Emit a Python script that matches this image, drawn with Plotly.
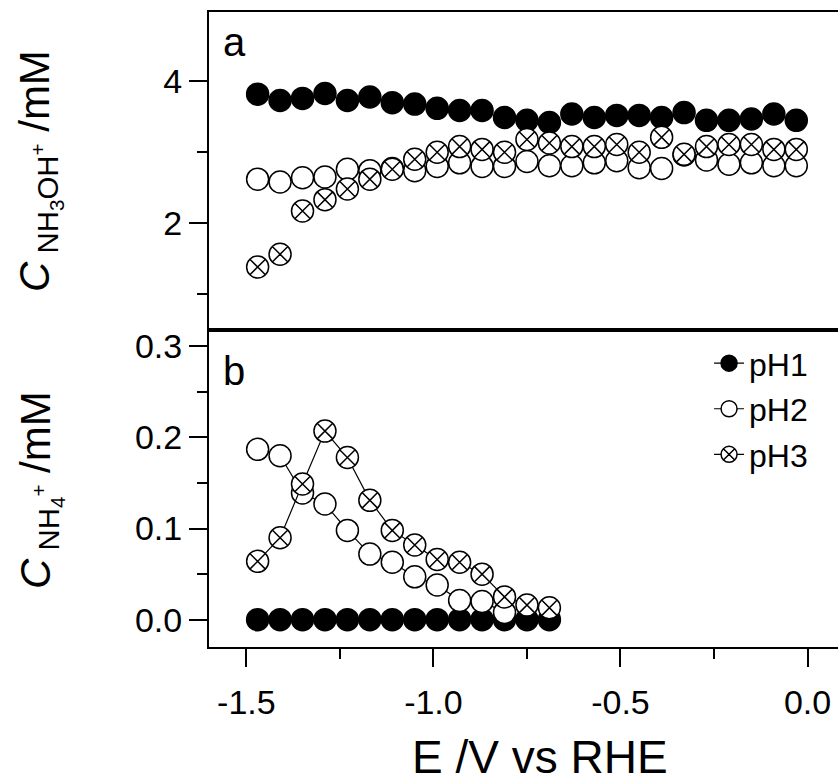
import plotly.graph_objects as go

# ---- data ----
E_top = [-1.47, -1.41, -1.35, -1.29, -1.23, -1.17, -1.11, -1.05, -0.99, -0.93,
         -0.87, -0.81, -0.75, -0.69, -0.63, -0.57, -0.51, -0.45, -0.39, -0.33,
         -0.27, -0.21, -0.15, -0.09, -0.03]
nh3oh_pH1 = [3.82, 3.73, 3.76, 3.83, 3.73, 3.78, 3.70, 3.68, 3.62, 3.59,
             3.59, 3.49, 3.45, 3.42, 3.54, 3.49, 3.52, 3.52, 3.49, 3.56,
             3.45, 3.45, 3.47, 3.54, 3.45]
nh3oh_pH2 = [2.62, 2.58, 2.64, 2.65, 2.76, 2.74, 2.77, 2.74, 2.80, 2.85,
             2.80, 2.80, 2.87, 2.81, 2.81, 2.85, 2.88, 2.78, 2.77, 2.96,
             2.89, 2.83, 2.85, 2.81, 2.81]
nh3oh_pH3 = [1.38, 1.56, 2.17, 2.33, 2.48, 2.62, 2.76, 2.90, 3.00, 3.08,
             3.04, 3.00, 3.18, 3.13, 3.08, 3.08, 3.11, 3.00, 3.21, 2.97,
             3.08, 3.11, 3.11, 3.04, 3.04]

E_bot = [-1.47, -1.41, -1.35, -1.29, -1.23, -1.17, -1.11, -1.05, -0.99, -0.93,
         -0.87, -0.81, -0.75, -0.69]
nh4_pH1 = [0.0, 0.0, 0.0, 0.0, 0.0, 0.0, 0.0, 0.0, 0.0, 0.0, 0.0, 0.0, 0.0, 0.0]
E_bot_pH2 = [-1.47, -1.41, -1.35, -1.29, -1.23, -1.17, -1.11, -1.05, -0.99, -0.93,
             -0.87, -0.81]
nh4_pH2 = [0.187, 0.180, 0.139, 0.127, 0.098, 0.072, 0.063, 0.047, 0.038, 0.021,
           0.020, 0.008]
nh4_pH3 = [0.064, 0.090, 0.149, 0.207, 0.178, 0.131, 0.098, 0.082, 0.066, 0.063,
           0.050, 0.025, 0.016, 0.013]

series_names = ["pH1", "pH2", "pH3"]
x_ticks = [-1.5, -1.0, -0.5, 0.0]

FONT = "Liberation Sans, Arial, sans-serif"
MS = 22

styles = [
    dict(symbol="circle", color="black", line=dict(color="black", width=1.5), size=MS),
    dict(symbol="circle", color="white", line=dict(color="black", width=1.5), size=MS),
    dict(symbol="circle-x", color="white", line=dict(color="black", width=1.5), size=MS),
]

fig = go.Figure()

top_y = [nh3oh_pH1, nh3oh_pH2, nh3oh_pH3]
for name, ys, st in zip(series_names, top_y, styles):
    fig.add_trace(go.Scatter(x=E_top, y=ys, mode="markers", marker=st,
                             xaxis="x2", yaxis="y2", showlegend=False, name=name))

bot_x = [E_bot, E_bot_pH2, E_bot]
bot_y = [nh4_pH1, nh4_pH2, nh4_pH3]
for name, xs, ys, st in zip(series_names, bot_x, bot_y, styles):
    fig.add_trace(go.Scatter(x=xs, y=ys, mode="lines+markers", marker=st,
                             line=dict(color="black", width=1.2),
                             xaxis="x", yaxis="y", name=name, legendgroup=name))

L, R, T, B = 209, 0, 12, 135
W, H = 838, 782
split = (647 - 330) / (647 - 12)

axis_common = dict(showline=True, linecolor="black", linewidth=2, showgrid=False,
                   zeroline=False, ticks="outside", ticklen=18, tickwidth=2,
                   tickcolor="black",
                   tickfont=dict(family=FONT, size=34, color="black"))

fig.update_layout(
    width=W, height=H,
    margin=dict(l=L, r=R, t=T, b=B),
    paper_bgcolor="white", plot_bgcolor="white",
    font=dict(family=FONT, color="black"),
    xaxis=dict(**axis_common, range=[-1.6, 0.0815], mirror=True, anchor="y",
               tickvals=x_ticks, ticktext=["-1.5", "-1.0", "-0.5", "0.0"],
               ticklabelstandoff=6,
               minor=dict(ticks="outside", ticklen=10, tickwidth=2, tickcolor="black",
                          tickvals=[-1.25, -0.75, -0.25])),
    xaxis2=dict(showline=True, linecolor="black", linewidth=2, mirror=True,
                showgrid=False, zeroline=False, ticks="", showticklabels=False,
                range=[-1.6, 0.0815], anchor="y2", matches="x"),
    yaxis=dict(**axis_common, domain=[0, split], range=[-0.03, 0.318],
               dtick=0.1, tick0=0, tickformat=".1f",
               minor=dict(ticks="outside", ticklen=10, tickwidth=2, tickcolor="black",
                          dtick=0.05, tick0=0)),
    yaxis2=dict(**axis_common, domain=[split, 1], range=[0.49, 4.98],
                dtick=2, tick0=0,
                minor=dict(ticks="outside", ticklen=10, tickwidth=2, tickcolor="black",
                           dtick=1, tick0=0)),
    legend=dict(x=0.795, y=0.49, xanchor="left", yanchor="top",
                bgcolor="rgba(0,0,0,0)", tracegroupgap=1,
                font=dict(family=FONT, size=32, color="black")),
)

def px_x(p):
    return (p - L) / (W - L - R)

def px_y(p):
    return (H - B - p) / (H - B - T)

ann = [
    dict(text="a", x=px_x(221), y=px_y(42), xanchor="left", yanchor="middle",
         font=dict(size=40)),
    dict(text="b", x=px_x(221), y=px_y(371), xanchor="left", yanchor="middle",
         font=dict(size=40)),
    dict(text="E /V vs RHE", x=px_x(540), y=px_y(757), xanchor="center", yanchor="middle",
         font=dict(size=46)),
    dict(text="<i>C</i><sub> NH<sub>3</sub>OH<sup>+</sup></sub> /mM", x=px_x(40), y=px_y(171),
         xanchor="center", yanchor="middle", textangle=-90, font=dict(size=42)),
    dict(text="<i>C</i><sub> NH<sub>4</sub><sup>+</sup></sub> /mM", x=px_x(40), y=px_y(490),
         xanchor="center", yanchor="middle", textangle=-90, font=dict(size=42)),
]
for a in ann:
    a.update(xref="paper", yref="paper", showarrow=False)
    a["font"] = dict(family=FONT, color="black", **a["font"])
fig.update_layout(annotations=ann)

fig.write_html("out.html")
